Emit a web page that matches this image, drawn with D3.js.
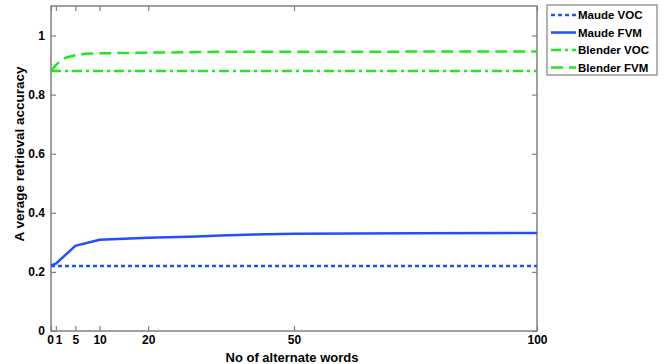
<!DOCTYPE html>
<html lang="en">
<head>
<meta charset="utf-8">
<title>Average retrieval accuracy</title>
<script src="https://cdn.jsdelivr.net/npm/d3@7"></script>
<style>
  body { margin: 0; background: #fff; }
  svg { font-family: "Liberation Sans", Arial, sans-serif; font-weight: bold; }
</style>
</head>
<body>
<svg id="chart" width="672" height="364"></svg>
<script>
// data
var xTicks = [0, 1, 5, 10, 20, 50, 100];
var yTicks = [0, 0.2, 0.4, 0.6, 0.8, 1];

var maudeVocX = [0, 100];
var maudeVocY = [0.22, 0.22];

var maudeFvmX = [0, 1, 5, 10, 15, 20, 30, 35, 40, 50, 75, 100];
var maudeFvmY = [0.222, 0.228, 0.288, 0.309, 0.312, 0.316, 0.320, 0.323, 0.326, 0.329, 0.331, 0.332];

var blenderVocX = [0, 100];
var blenderVocY = [0.88, 0.88];

var blenderFvmX = [0, 1, 2, 3, 5, 7, 10, 20, 35, 100];
var blenderFvmY = [0.88, 0.90, 0.915, 0.925, 0.933, 0.938, 0.940, 0.942, 0.945, 0.946];

var seriesNames = ["Maude VOC", "Maude FVM", "Blender VOC", "Blender FVM"];

var blue = "#1f4fff", green = "#22e622";
var series = [
  {name: seriesNames[0], xs: maudeVocX, ys: maudeVocY, color: blue, dash: "4,3"},
  {name: seriesNames[1], xs: maudeFvmX, ys: maudeFvmY, color: blue, dash: null},
  {name: seriesNames[2], xs: blenderVocX, ys: blenderVocY, color: green, dash: "10,4,3,4"},
  {name: seriesNames[3], xs: blenderFvmX, ys: blenderFvmY, color: green, dash: "12,6"}
];

var svg = d3.select("#chart");
var margin = {left: 51, top: 6, right: 135, bottom: 33};
var width = 672 - margin.left - margin.right,   // 486
    height = 364 - margin.top - margin.bottom;  // 325

var g = svg.append("g").attr("transform", "translate(" + margin.left + "," + margin.top + ")");

var x = d3.scaleLinear().domain([0, 100]).range([0, width]);
var y = d3.scaleLinear().domain([0, 1.1]).range([height, 0]);

var axisColor = "#808080";

// box
g.append("rect")
  .attr("width", width).attr("height", height)
  .attr("fill", "none").attr("stroke", axisColor).attr("stroke-width", 1.5);

// bottom axis, ticks inward
var xAx = g.append("g").attr("transform", "translate(0," + height + ")")
  .call(d3.axisBottom(x).tickValues(xTicks).tickSize(-5).tickPadding(4).tickFormat(d3.format("d")));
// top mirror ticks
var xTop = g.append("g")
  .call(d3.axisTop(x).tickValues(xTicks).tickSize(-5).tickFormat(""));
var yAx = g.append("g")
  .call(d3.axisLeft(y).tickValues(yTicks).tickSize(-5).tickPadding(6).tickFormat(function(d){ return d3.format("")(+d.toFixed(1)); }));
var yRight = g.append("g").attr("transform", "translate(" + width + ",0)")
  .call(d3.axisRight(y).tickValues(yTicks).tickSize(-5).tickFormat(""));

[xAx, xTop, yAx, yRight].forEach(function(a) {
  a.select(".domain").remove();
  a.selectAll("line").attr("stroke", axisColor).attr("stroke-width", 1.2);
  a.selectAll("text").attr("fill", "#000").style("font-size", "12px").style("font-weight", "bold")
    .style("font-family", "Liberation Sans, Arial, sans-serif");
});

// "0" and "1" sit side by side, as in the figure
xAx.selectAll(".tick text")
  .attr("text-anchor", function(d){ return d === 0 ? "end" : d === 1 ? "start" : "middle"; })
  .attr("dx", function(d){ return d === 0 ? "0.2em" : d === 1 ? "-0.05em" : 0; });

// lines
var line = d3.line()
  .x(function(d){ return x(d[0]); })
  .y(function(d){ return y(d[1]); });

series.forEach(function(s) {
  var pts = s.xs.map(function(v, i){ return [v, s.ys[i]]; });
  g.append("path")
    .datum(pts)
    .attr("d", line)
    .attr("fill", "none")
    .attr("stroke", s.color)
    .attr("stroke-width", 2.5)
    .attr("stroke-dasharray", s.dash);
});

// axis labels
svg.append("text")
  .attr("x", 292).attr("y", 362)
  .attr("text-anchor", "middle")
  .style("font-size", "13px")
  .text("No of alternate words");

svg.append("text")
  .attr("transform", "translate(24,154) rotate(-90)")
  .attr("text-anchor", "middle")
  .style("font-size", "13.5px")
  .text("A verage retrieval accuracy");

// legend
var lg = svg.append("g").attr("transform", "translate(547,5)");
lg.append("rect")
  .attr("width", 110).attr("height", 70)
  .attr("fill", "#fff").attr("stroke", axisColor).attr("stroke-width", 1.2);

var rows = lg.selectAll("g.row").data(series).enter().append("g")
  .attr("transform", function(d, i){ return "translate(0," + (10 + i * 17.5) + ")"; });
rows.append("line")
  .attr("x1", 4).attr("x2", 29).attr("y1", 0).attr("y2", 0)
  .attr("stroke", function(d){ return d.color; })
  .attr("stroke-width", 2.5)
  .attr("stroke-dasharray", function(d){ return d.dash; });
rows.append("text")
  .attr("x", 31).attr("y", 0).attr("dy", "0.35em")
  .style("font-size", "11.5px")
  .text(function(d){ return d.name; });
</script>
</body>
</html>
